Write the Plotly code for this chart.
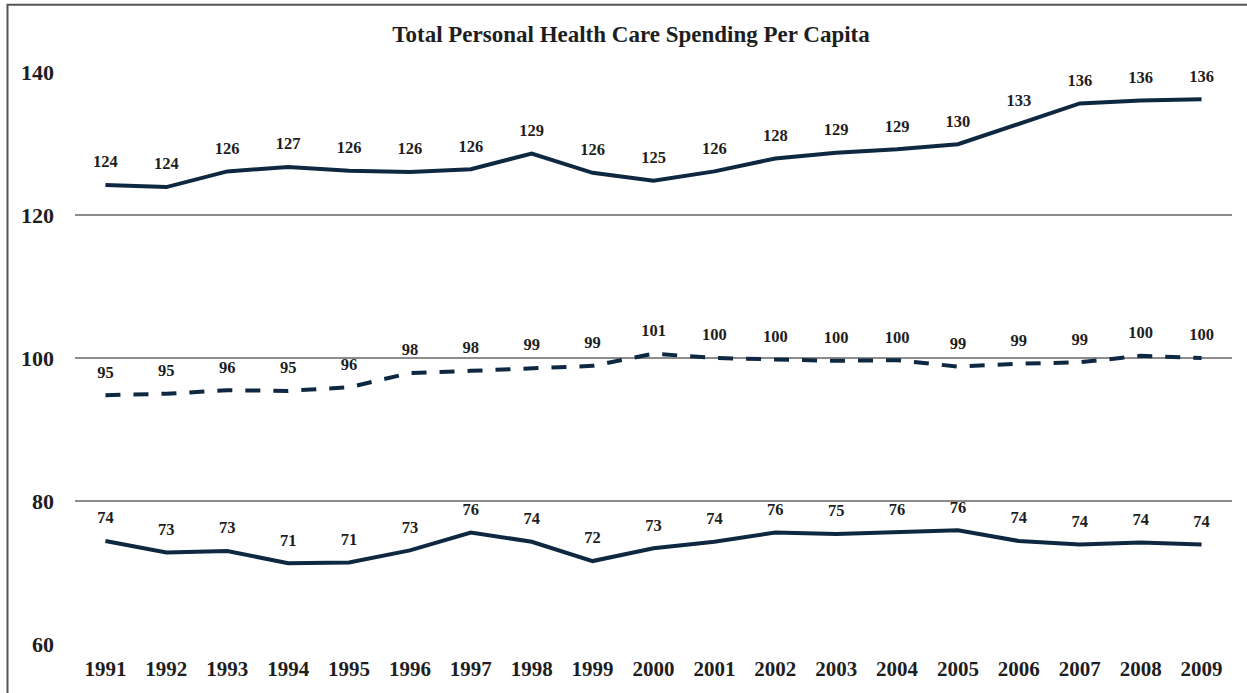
import plotly.graph_objects as go

years = [str(y) for y in range(1991, 2010)]

top_values = [124.2, 123.9, 126.1, 126.7, 126.2, 126.0, 126.4, 128.6, 125.9, 124.8,
              126.1, 127.9, 128.7, 129.2, 129.9, 132.8, 135.6, 136.0, 136.2]
mid_values = [94.8, 95.0, 95.5, 95.4, 95.9, 97.9, 98.2, 98.6, 98.9, 100.6,
              100.0, 99.8, 99.6, 99.7, 98.8, 99.2, 99.4, 100.3, 100.0]
bot_values = [74.4, 72.8, 73.0, 71.3, 71.4, 73.1, 75.6, 74.3, 71.6, 73.4,
              74.3, 75.6, 75.4, 75.6, 75.9, 74.4, 73.9, 74.2, 73.9]

title_text = "Total Personal Health Care Spending Per Capita"
y_ticks = [60, 80, 100, 120, 140]

LINE = "#0E2841"
TEXT = "#1e1e1e"
FONT = "Liberation Serif"

W, H = 1247, 693
ML, MR, MT, MB = 75, 15, 72, 49
PW, PH = W - ML - MR, H - MT - MB

fig = go.Figure()
series = [(top_values, "solid"), (mid_values, "15px,13px"), (bot_values, "solid")]
for vals, dash in series:
    fig.add_trace(go.Scatter(
        x=years, y=vals, mode="lines",
        line=dict(color=LINE, width=4, dash=dash),
        hoverinfo="skip", showlegend=False,
    ))
for vals, dash in series:
    fig.add_trace(go.Scatter(
        x=years, y=vals, mode="markers+text",
        marker=dict(size=20, color="rgba(0,0,0,0)"),
        text=[f"{int(v + 0.5):d}" for v in vals], textposition="top center",
        textfont=dict(family=FONT, size=16.5, color=TEXT, weight="bold"),
        hoverinfo="skip", showlegend=False, cliponaxis=False,
    ))

fig.update_layout(
    width=W, height=H,
    margin=dict(l=ML, r=MR, t=MT, b=MB, pad=0),
    paper_bgcolor="white", plot_bgcolor="white",
    title=dict(text=title_text, x=631 / W, xref="container", xanchor="center",
               y=1 - 34 / H, yref="container", yanchor="middle",
               font=dict(family=FONT, size=23, color=TEXT, weight="bold")),
    xaxis=dict(type="category", range=[-0.5, 18.5], showgrid=False, zeroline=False,
               showline=False, ticks="", ticklabelstandoff=10,
               tickfont=dict(family=FONT, size=21, color=TEXT, weight="bold")),
    yaxis=dict(range=[60, 140], tickvals=y_ticks, showgrid=True, gridcolor="#8c8c8c",
               gridwidth=2, zeroline=False, showline=False, ticks="",
               ticklabelstandoff=20,
               tickfont=dict(family=FONT, size=22, color=TEXT, weight="bold")),
    shapes=[dict(type="rect", xref="paper", yref="paper",
                 x0=(7.5 - ML) / PW, x1=1 + (MR + 10) / PW,
                 y0=-(MB + 10) / PH, y1=1 + (MT - 4.7) / PH,
                 line=dict(color="#555555", width=2), fillcolor="rgba(0,0,0,0)",
                 layer="below")],
)

fig.write_html("out.html")
